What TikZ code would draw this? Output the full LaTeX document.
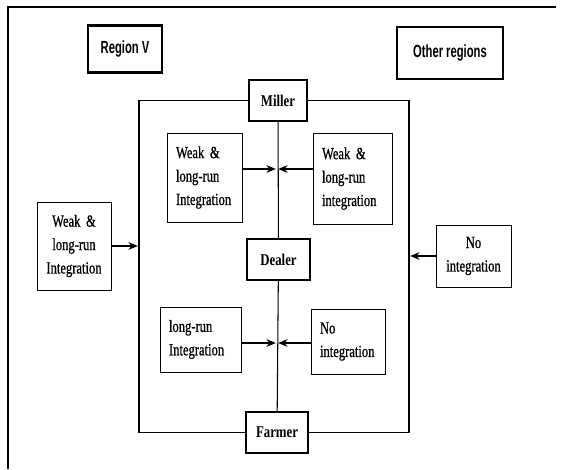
\documentclass[tikz,border=0pt]{standalone}
\usepackage{fontspec}
\setmainfont{Liberation Serif}
\newfontfamily\boxfont[FakeStretch=0.74,FakeBold=0.8]{Liberation Serif}
\newfontfamily\actorfont[FakeStretch=0.78]{Liberation Serif}
\newfontfamily\tagfont[FakeStretch=0.64]{Liberation Sans}
\usetikzlibrary{arrows.meta,positioning}

\tikzset{
	pbox/.style={draw, line width=0.8pt, inner xsep=9*0.03cm, inner ysep=0pt,
		font=\boxfont\fontsize{14.5}{20}\selectfont},
	lbox/.style={pbox, align=left},
	cbox/.style={pbox, align=center},
	actor/.style={draw, line width=1.7pt, inner sep=0pt,
		font=\actorfont\fontsize{14}{16}\selectfont\bfseries},
	regiontag/.style={draw, line width=2.4pt, inner sep=0pt,
		font=\tagfont\fontsize{15}{17}\selectfont\bfseries},
	flow/.style={line width=1.1pt, -{Stealth[length=8pt,width=6.5pt]}, shorten >=1pt},
	frame/.style={line width=0.9pt}
}

\begin{document}
\begin{tikzpicture}[x=0.03cm, y=-0.03cm]
	\useasboundingbox (0,0) rectangle (563,469);
	% outer frame
	\draw[frame] (8,469) -- (8,7) -- (556,7);
	% region tags
	\node[regiontag, minimum width=74*0.03cm, minimum height=47*0.03cm] (regionV) at (125,49) {Region V};
	\node[regiontag, minimum width=106*0.03cm, minimum height=52*0.03cm] (otherregions) at (450,53) {Other regions};
	% actors
	\node[actor, minimum width=58*0.03cm, minimum height=41*0.03cm] (miller) at (278,100.5) {Miller};
	\node[actor, minimum width=63*0.03cm, minimum height=41*0.03cm] (dealer) at (278.5,259.5) {Dealer};
	\node[actor, minimum width=62*0.03cm, minimum height=41*0.03cm] (farmer) at (277,432.5) {Farmer};
	% inner frame corners and hubs
	\coordinate (tl) at (139,98);
	\coordinate (tr) at (409,98);
	\coordinate (bl) at (139,431);
	\coordinate (br) at (409,431);
	\coordinate (hubup) at (277,169);
	\coordinate (hubdown) at (277,343);
	\draw[frame] (miller.west) -- (miller.west -| tl) -- (farmer.west -| bl) -- (farmer.west);
	\draw[frame] (miller.east) -- (miller.east -| tr) -- (farmer.east -| br) -- (farmer.east);
	\draw[frame] (miller) -- (dealer);
	\draw[frame] (dealer) -- (farmer);
	% integration boxes
	\node[lbox, text width=57*0.03cm, minimum height=89*0.03cm] (weakup) at (204.5,177.5) {Weak \&\\long-run\\Integration};
	\node[lbox, text width=61*0.03cm, minimum height=91*0.03cm] (weakright) at (352.5,178.5) {Weak \&\\long-run\\integration};
	\node[cbox, text width=56*0.03cm, minimum height=88*0.03cm] (weakleft) at (74,246) {Weak \&\\long-run\\Integration};
	\node[cbox, text width=57*0.03cm, minimum height=62*0.03cm] (noouter) at (473.5,256) {No\\integration};
	\node[lbox, text width=63*0.03cm, minimum height=65*0.03cm] (longrun) at (200.5,339.5) {long-run\\Integration};
	\node[lbox, text width=56*0.03cm, minimum height=65*0.03cm] (noinner) at (348,341.5) {No\\integration};
	% arrows
	\draw[flow] (weakup.east |- hubup) -- (hubup);
	\draw[flow] (weakright.west |- hubup) -- (hubup);
	\draw[flow] (longrun.east |- hubdown) -- (hubdown);
	\draw[flow] (noinner.west |- hubdown) -- (hubdown);
	\draw[flow] (weakleft.east) -- (weakleft.east -| tl);
	\draw[flow] (noouter.west) -- (noouter.west -| tr);
\end{tikzpicture}
\end{document}
